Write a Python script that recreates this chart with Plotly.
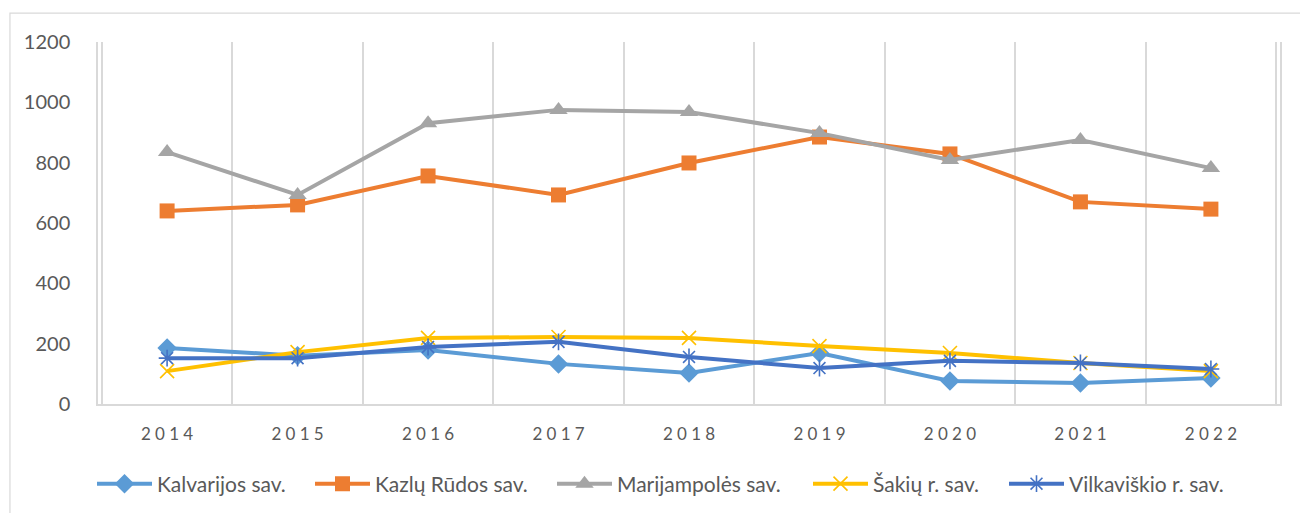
import plotly.graph_objects as go

years = ['2014', '2015', '2016', '2017', '2018', '2019', '2020', '2021', '2022']
# narrow spaces between digits to mimic the spaced-out year labels
year_labels = ['\u2005'.join(y) for y in years]

kalvarijos = [186, 160, 179, 133, 103, 169, 76, 70, 86]
kazlu_rudos = [640, 660, 756, 693, 799, 885, 829, 670, 646]
marijampoles = [835, 693, 931, 975, 968, 898, 809, 875, 782]
sakiu = [109, 172, 219, 222, 219, 192, 169, 136, 109]
vilkaviskio = [152, 152, 189, 206, 156, 119, 143, 136, 116]

series = [
    ('Kalvarijos sav.', kalvarijos, '#5B9BD5', 'diamond', 15),
    ('Kazlų Rūdos sav.', kazlu_rudos, '#ED7D31', 'square', 15),
    ('Marijampolės sav.', marijampoles, '#A5A5A5', 'triangle-up', 16),
    ('Šakių r. sav.', sakiu, '#FFC000', 'x-thin-open', 14),
    ('Vilkaviškio r. sav.', vilkaviskio, '#4472C4', 'asterisk-open', 14),
]

# left edge (px) of each legend entry's line, one legend per series
legend_px = [97, 315, 557, 813, 1009]
W, H = 1300, 513

fig = go.Figure()
layout_legends = {}
for i, (name, vals, color, symbol, size) in enumerate(series):
    marker = dict(symbol=symbol, size=size, color=color)
    if symbol.endswith('open'):
        marker['line'] = dict(color=color, width=1.6)
    leg = 'legend' if i == 0 else f'legend{i + 1}'
    fig.add_trace(go.Scatter(
        x=years, y=vals, name=name, mode='lines+markers',
        line=dict(color=color, width=4), marker=marker, legend=leg,
    ))
    layout_legends[leg] = dict(
        xref='container', x=(legend_px[i] - 5) / W, xanchor='left',
        yref='container', y=(H - 484) / H, yanchor='middle',
        orientation='h', itemwidth=55,
        font=dict(size=21, color='#595959'), bgcolor='rgba(0,0,0,0)',
    )

fig.update_layout(
    width=W, height=H,
    margin=dict(l=98, r=20, t=42, b=109),
    paper_bgcolor='white', plot_bgcolor='white',
    font=dict(family='Lato, Open Sans, sans-serif', size=17, color='#595959'),
    showlegend=True,
    shapes=[dict(type='rect', xref='paper', yref='paper',
                 x0=-0.0745, x1=1.05, y0=-0.45, y1=1.08,
                 line=dict(color='#d9d9d9', width=1.2), fillcolor='rgba(0,0,0,0)', layer='below')],
    **layout_legends,
)

fig.update_xaxes(
    type='category', tickson='boundaries', tickvals=years, ticktext=year_labels,
    showgrid=True, gridcolor='#d9d9d9', gridwidth=1.5,
    showline=True, linecolor='#d9d9d9', linewidth=1.5,
    ticks='', tickfont=dict(size=17, color='#595959'), ticklabelstandoff=14,
)
fig.update_yaxes(
    range=[0, 1200], dtick=200, showgrid=False, zeroline=False,
    showline=True, mirror=True, linecolor='#d9d9d9', linewidth=1.5,
    ticks='', tickfont=dict(size=20, color='#595959'), ticklabelstandoff=22,
)

# drop the default page margin so the figure sits at the window's top-left corner
fig.write_html('out.html', config={'displayModeBar': False},
               post_script="document.body.style.margin='0px';")
